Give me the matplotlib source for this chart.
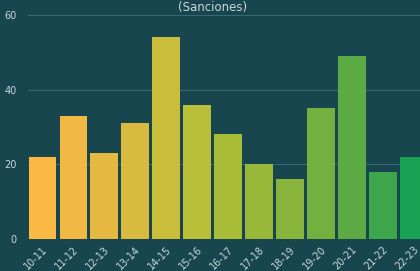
import matplotlib.pyplot as plt
import numpy as np

temporadas = ['10-11', '11-12', '12-13', '13-14', '14-15', '15-16', '16-17',
              '17-18', '18-19', '19-20', '20-21', '21-22', '22-23']
sanciones = [22, 33, 23, 31, 54, 36, 28, 20, 16, 35, 49, 18, 22]
colores = ['#FBB944', '#F1B843', '#E5B941', '#D7BA3E', '#C9BD3A', '#B9BE38',
           '#A9BC38', '#99B83A', '#89B53C', '#74B03F', '#5BAA44', '#3DA64B',
           '#1AA254']

bg = '#18464F'
txt = '#C9D7DB'

fig = plt.figure(figsize=(4.2, 2.71), dpi=100, facecolor=bg)
ax = fig.add_axes([28 / 420, 32 / 271, 402 / 420, 224 / 271], facecolor=bg)

x = np.arange(len(temporadas))
ax.bar(x, sanciones, width=0.9, color=colores, zorder=3)

ax.set_xlim(-0.47, len(temporadas) - 0.47)
ax.set_ylim(0, 60)
ax.set_yticks([0, 20, 40, 60])
ax.set_xticks(x)
ax.set_xticklabels(temporadas, rotation=45, ha='right', rotation_mode='anchor')
ax.tick_params(axis='both', colors=txt, labelsize=7, length=0)
ax.tick_params(axis='y', pad=8)
ax.tick_params(axis='x', pad=4)
ax.grid(axis='y', color='#3B6B76', linewidth=0.7, zorder=0)
for s in ax.spines.values():
    s.set_visible(False)

# title sits right at the top edge, as in the source image
fig.text(0.507, 1 - 1 / 271, '(Sanciones)', color=txt, fontsize=8.5,
         ha='center', va='top')

plt.savefig('out.png', dpi=100, facecolor=bg)
